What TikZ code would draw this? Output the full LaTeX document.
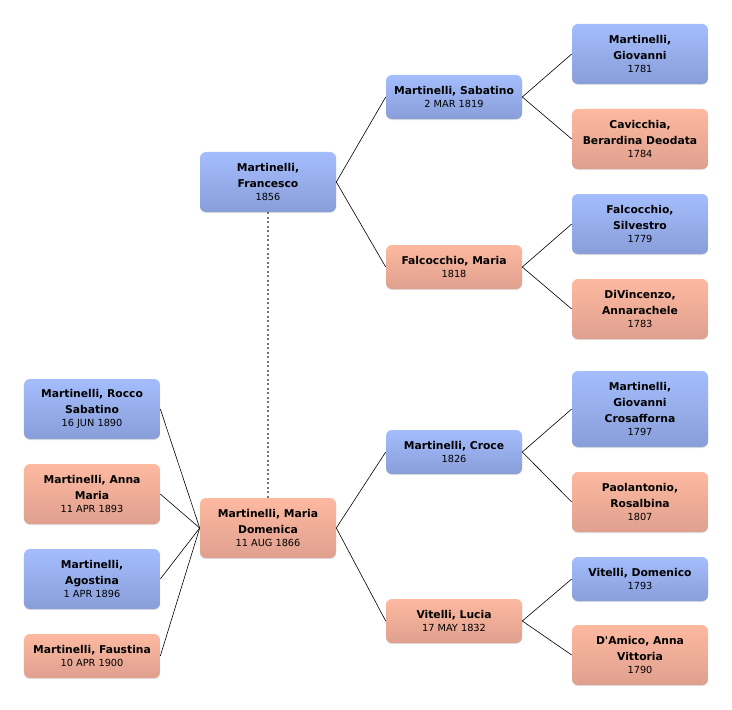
\documentclass[tikz,border=0pt]{standalone}
\usepackage{fontspec}
\setmainfont{DejaVu Sans}
\usetikzlibrary{positioning,shadows}
\definecolor{maletop}{HTML}{A4BDFC}
\definecolor{malebot}{HTML}{889ED9}
\definecolor{femtop}{HTML}{FDB9A0}
\definecolor{fembot}{HTML}{DFA08F}
\newcommand{\born}[1]{\\[-3.5bp]{\mdseries\fontsize{9.8}{12}\selectfont #1}}
\tikzset{
  person/.style={rounded corners=6bp, minimum width=136bp, minimum height=44bp,
    inner sep=2bp, align=center, font=\fontsize{10.8}{16}\selectfont\bfseries,
    drop shadow={shadow xshift=0bp, shadow yshift=-1bp, opacity=.25}},
  male/.style={person, top color=maletop, bottom color=malebot},
  female/.style={person, top color=femtop, bottom color=fembot},
  h3/.style={minimum height=60bp},
  h4/.style={minimum height=76bp}
}
\begin{document}
\begin{tikzpicture}[x=1bp,y=-1bp,line width=0.6bp]
\useasboundingbox (0,0) rectangle (732,710);
                \node[male,h3]   (rocco)       at (92,409)  {Martinelli, Rocco\\Sabatino\born{16 JUN 1890}};
                \node[female,h3] (anna)        at (92,494)  {Martinelli, Anna\\Maria\born{11 APR 1893}};
                \node[male,h3]   (agostina)    at (92,579)  {Martinelli,\\Agostina\born{1 APR 1896}};
                \node[female]    (faustina)    at (92,656)  {Martinelli, Faustina\born{10 APR 1900}};
                \node[female,h3] (domenica)    at (268,528) {Martinelli, Maria\\Domenica\born{11 AUG 1866}};
                \node[male,h3]   (francesco)   at (268,182) {Martinelli,\\Francesco\born{1856}};
                \node[male]      (sabatino)    at (454,97)  {Martinelli, Sabatino\born{2 MAR 1819}};
                \node[female]    (maria)       at (454,267) {Falcocchio, Maria\born{1818}};
                \node[male]      (croce)       at (454,452) {Martinelli, Croce\born{1826}};
                \node[female]    (lucia)       at (454,621) {Vitelli, Lucia\born{17 MAY 1832}};
                \node[male,h3]   (giovanni)    at (640,54)  {Martinelli,\\Giovanni\born{1781}};
                \node[female,h3] (berardina)   at (640,139) {Cavicchia,\\Berardina Deodata\born{1784}};
                \node[male,h3]   (silvestro)   at (640,224) {Falcocchio,\\Silvestro\born{1779}};
                \node[female,h3] (annarachele) at (640,309) {DiVincenzo,\\Annarachele\born{1783}};
                \node[male,h4]   (crosafforna) at (640,409) {Martinelli,\\Giovanni\\Crosafforna\born{1797}};
                \node[female,h3] (rosalbina)   at (640,502) {Paolantonio,\\Rosalbina\born{1807}};
                \node[male]      (domenico)    at (640,579) {Vitelli, Domenico\born{1793}};
                \node[female,h3] (vittoria)    at (640,655) {D\textquotesingle Amico, Anna\\Vittoria\born{1790}};
                \path
                (rocco.east) edge (domenica.west)
                (anna.east) edge (domenica.west)
                (agostina.east) edge (domenica.west)
                (faustina.east) edge (domenica.west)
                (domenica.east) edge (croce.west)
                        edge (lucia.west)
                (francesco.east) edge (sabatino.west)
                        edge (maria.west)
                (sabatino.east) edge (giovanni.west)
                        edge (berardina.west)
                (maria.east) edge (silvestro.west)
                        edge (annarachele.west)
                (croce.east) edge (crosafforna.west)
                        edge (rosalbina.west)
                (lucia.east) edge (domenico.west)
                        edge (vittoria.west);
                \draw[black!55, line width=1.5bp, dash pattern=on 2bp off 2.5bp] (francesco.south) -- (domenica.north);
            \end{tikzpicture}
\end{document}
